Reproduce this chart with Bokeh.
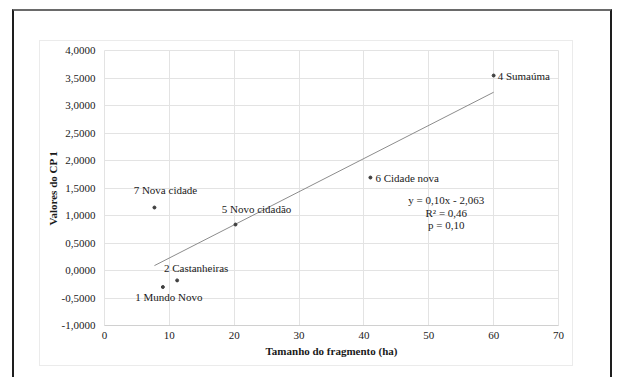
import numpy as np
from bokeh.plotting import figure
from bokeh.models import ColumnDataSource, FixedTicker, CustomJSTickFormatter, InlineStyleSheet
from bokeh.core.properties import value
from bokeh.embed import file_html
from bokeh.resources import INLINE

# ---- data ----
sites = ["1 Mundo Novo", "2 Castanheiras", "4 Sumaúma", "5 Novo cidadão", "6 Cidade nova", "7 Nova cidade"]
tamanho_ha = [9.0, 11.2, 60.0, 20.2, 41.0, 7.7]
valores_cp1 = [-0.30, -0.18, 3.545, 0.836, 1.69, 1.145]
x_ticks = [0, 10, 20, 30, 40, 50, 60, 70]
y_ticks = [-1.0, -0.5, 0.0, 0.5, 1.0, 1.5, 2.0, 2.5, 3.0, 3.5, 4.0]
equation_lines = ["y = 0,10x - 2,063", "R² = 0,46", "p = 0,10"]

# label placement (screen px) relative to each point
label_dx = [6, 19, 4, 21, 5, 11]
label_dy = [10, -12, 0, -16, 0, -18]
label_align = ["center", "center", "left", "center", "left", "center"]

FONT = "Liberation Serif, Times New Roman, DejaVu Serif, serif"
TXT = "#1a1a1a"

css = """
:host { position: relative; }
:host::before {
  content: ""; position: absolute; z-index: 5; pointer-events: none;
  left: 12px; top: 9px; width: 596px; height: 420px;
  border-left: 2px solid #1e1e1e; border-right: 2px solid #1e1e1e; border-top: 2px solid #6a6a6a;
}
:host::after {
  content: ""; position: absolute; z-index: 4; pointer-events: none;
  left: 39px; top: 40px; width: 532px; height: 324px;
  border: 1px solid #ebebeb;
}
"""

p = figure(
    width=616, height=377,
    frame_width=454, frame_height=275,
    min_border_left=104, min_border_right=58, min_border_top=50, min_border_bottom=52,
    x_range=(0, 70), y_range=(-1, 4),
    output_backend="svg", toolbar_location=None,
    background_fill_color="white", border_fill_color="white",
    stylesheets=[InlineStyleSheet(css=css)],
    styles={"overflow": "hidden"},
)
p.outline_line_color = "#e3e3e3"

# grid
p.xgrid.ticker = FixedTicker(ticks=x_ticks)
p.ygrid.ticker = FixedTicker(ticks=y_ticks)
p.xgrid.grid_line_color = "#e3e3e3"
p.ygrid.grid_line_color = "#e3e3e3"

# axes
p.xaxis.ticker = FixedTicker(ticks=x_ticks)
p.yaxis.ticker = FixedTicker(ticks=y_ticks)
p.yaxis.formatter = CustomJSTickFormatter(code="return tick.toFixed(4).replace('.', ',');")
for ax in (p.xaxis, p.yaxis):
    ax.major_tick_line_color = None
    ax.minor_tick_line_color = None
    ax.major_tick_out = 0
    ax.major_tick_in = 0
    ax.major_label_text_font = FONT
    ax.major_label_text_font_size = "11px"
    ax.major_label_text_color = TXT
    ax.axis_label_text_font = FONT
    ax.axis_label_text_font_size = "11px"
    ax.axis_label_text_font_style = "bold"
    ax.axis_label_text_color = TXT
p.yaxis.axis_line_color = None
p.xaxis.axis_line_color = "#d0d0d0"
p.xaxis.axis_label = "Tamanho do fragmento (ha)"
p.yaxis.axis_label = "Valores do CP 1"
p.yaxis.major_label_standoff = 9
p.yaxis.axis_label_standoff = 0
p.xaxis.major_label_standoff = 6
p.xaxis.axis_label_standoff = 3

# trend line (least squares fit of the data)
slope, intercept = np.polyfit(tamanho_ha, valores_cp1, 1)
tx = [min(tamanho_ha), max(tamanho_ha)]
ty = [slope * v + intercept for v in tx]
p.line(tx, ty, line_color="#8c8c8c", line_width=1)

src = ColumnDataSource(dict(x=tamanho_ha, y=valores_cp1, label=sites,
                            dx=label_dx, dy=label_dy, align=label_align))
p.scatter("x", "y", source=src, size=3, color="#404040")
p.text("x", "y", text="label", source=src, x_offset="dx", y_offset="dy",
       text_align="align", text_baseline="middle",
       text_font=value(FONT), text_font_size="11px", text_color=TXT)

# equation text
eq_src = ColumnDataSource(dict(x=[52.7] * 3, y=[1.049] * 3, t=equation_lines, dy=[-13, 0, 12]))
p.text("x", "y", text="t", source=eq_src, y_offset="dy", text_align="center",
       text_baseline="middle", text_font=value(FONT), text_font_size="11px", text_color=TXT)

open("out.html", "w").write(file_html(p, INLINE))
